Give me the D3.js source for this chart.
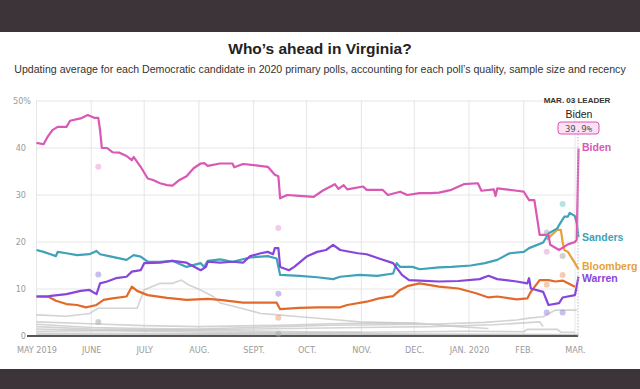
<!DOCTYPE html>
<html>
<head>
<meta charset="utf-8">
<script src="https://cdn.jsdelivr.net/npm/d3@7"></script>
<style>
	html, body { margin: 0; padding: 0; background: #3d3439; }
	svg { display: block; }
	.tick-label { font-family: "Liberation Sans Narrow", "DejaVu Sans Condensed", sans-serif; font-size: 9px; fill: #9a9a9a; }
</style>
</head>
<body>
<svg width="640" height="389"></svg>
<script>
// --- data (poll average, %) ---
const biden = [["2019-05-01",41.1],["2019-05-05",40.8],["2019-05-07",42.2],["2019-05-10",43.8],["2019-05-13",44.5],["2019-05-18",44.5],["2019-05-20",45.8],["2019-05-26",46.3],["2019-05-30",47.0],["2019-06-03",46.4],["2019-06-05",46.4],["2019-06-06",43.8],["2019-06-07",40.0],["2019-06-10",40.0],["2019-06-13",39.1],["2019-06-17",39.0],["2019-06-21",38.3],["2019-06-24",37.4],["2019-06-25",38.1],["2019-06-29",36.0],["2019-07-03",33.5],["2019-07-06",33.2],["2019-07-10",32.5],["2019-07-14",32.1],["2019-07-17",32.0],["2019-07-21",33.2],["2019-07-25",34.0],["2019-07-29",35.7],["2019-08-02",36.7],["2019-08-04",36.8],["2019-08-06",36.2],["2019-08-13",36.7],["2019-08-20",36.7],["2019-08-21",35.9],["2019-08-26",36.6],["2019-09-09",36.0],["2019-09-13",34.3],["2019-09-15",34.0],["2019-09-16",29.3],["2019-09-20",30.0],["2019-09-27",29.8],["2019-10-05",29.6],["2019-10-10",30.9],["2019-10-17",32.3],["2019-10-19",31.3],["2019-10-22",32.1],["2019-10-24",31.2],["2019-11-02",31.8],["2019-11-04",31.1],["2019-11-13",31.1],["2019-11-16",30.0],["2019-11-23",30.7],["2019-11-27",30.0],["2019-12-04",30.4],["2019-12-10",30.4],["2019-12-15",30.5],["2019-12-22",31.1],["2019-12-29",32.3],["2020-01-06",32.5],["2020-01-08",30.9],["2020-01-15",31.2],["2020-01-16",29.8],["2020-01-17",31.4],["2020-01-28",30.9],["2020-02-01",30.7],["2020-02-04",28.9],["2020-02-07",28.9],["2020-02-09",24.0],["2020-02-10",21.5],["2020-02-15",21.5],["2020-02-16",19.4],["2020-02-21",18.3],["2020-02-26",19.5],["2020-03-01",20.0],["2020-03-02",20.5],["2020-03-03",39.9]];

const sanders = [["2019-05-01",18.3],["2019-05-05",17.9],["2019-05-09",17.4],["2019-05-12",17.0],["2019-05-13",17.9],["2019-05-18",17.6],["2019-05-24",17.2],["2019-05-31",17.4],["2019-06-04",18.1],["2019-06-06",17.4],["2019-06-11",17.0],["2019-06-21",16.2],["2019-06-25",17.2],["2019-06-29",16.9],["2019-07-03",15.8],["2019-07-10",15.8],["2019-07-17",16.0],["2019-07-25",14.7],["2019-08-02",15.5],["2019-08-04",14.7],["2019-08-06",16.0],["2019-08-13",16.3],["2019-08-20",15.8],["2019-08-30",16.7],["2019-09-09",17.0],["2019-09-14",16.5],["2019-09-16",13.0],["2019-09-27",12.8],["2019-10-07",12.5],["2019-10-16",12.1],["2019-10-20",12.6],["2019-10-31",13.0],["2019-11-10",12.8],["2019-11-19",13.3],["2019-11-21",15.5],["2019-11-23",14.7],["2019-11-30",14.7],["2019-12-04",14.2],["2019-12-15",14.6],["2019-12-22",14.7],["2020-01-02",15.0],["2020-01-10",15.5],["2020-01-17",16.2],["2020-01-24",17.6],["2020-02-01",17.9],["2020-02-04",18.7],["2020-02-12",19.9],["2020-02-15",21.8],["2020-02-20",22.9],["2020-02-21",23.6],["2020-02-24",25.4],["2020-02-26",25.4],["2020-02-27",26.2],["2020-03-01",25.5],["2020-03-02",24.0],["2020-03-03",21.0]];

const warren = [["2019-05-01",8.4],["2019-05-08",8.5],["2019-05-18",8.9],["2019-05-26",9.6],["2019-05-31",9.8],["2019-06-04",8.9],["2019-06-06",11.2],["2019-06-10",11.6],["2019-06-15",12.3],["2019-06-21",12.6],["2019-06-24",13.7],["2019-06-29",14.0],["2019-07-01",15.5],["2019-07-10",15.6],["2019-07-17",16.0],["2019-07-25",15.6],["2019-08-02",14.0],["2019-08-05",14.7],["2019-08-06",15.8],["2019-08-13",15.6],["2019-08-20",15.8],["2019-08-26",15.6],["2019-08-30",17.0],["2019-09-05",17.6],["2019-09-09",17.9],["2019-09-12",17.4],["2019-09-13",18.7],["2019-09-15",18.7],["2019-09-16",14.7],["2019-09-21",14.0],["2019-09-24",14.7],["2019-10-01",16.9],["2019-10-07",17.9],["2019-10-12",18.3],["2019-10-16",19.4],["2019-10-20",18.3],["2019-10-30",17.6],["2019-11-04",17.4],["2019-11-11",16.5],["2019-11-19",15.5],["2019-11-24",13.0],["2019-11-28",11.9],["2019-12-04",11.8],["2019-12-15",11.6],["2019-12-26",11.7],["2020-01-07",12.1],["2020-01-12",12.8],["2020-01-17",12.1],["2020-01-28",11.6],["2020-02-03",11.2],["2020-02-04",12.3],["2020-02-05",10.1],["2020-02-12",9.4],["2020-02-15",6.6],["2020-02-21",7.0],["2020-02-23",8.2],["2020-03-01",8.7],["2020-03-03",12.6]];

const buttigieg = [["2019-05-01",8.4],["2019-05-08",8.3],["2019-05-12",7.5],["2019-05-18",6.8],["2019-05-24",6.6],["2019-05-29",6.1],["2019-06-04",6.6],["2019-06-08",7.7],["2019-06-13",8.0],["2019-06-21",8.4],["2019-06-24",10.5],["2019-06-27",9.6],["2019-07-03",8.7],["2019-07-14",8.1],["2019-07-25",7.7],["2019-08-06",7.9],["2019-08-13",7.7],["2019-08-26",7.1],["2019-09-14",7.1],["2019-09-16",5.7],["2019-09-27",6.0],["2019-10-07",6.1],["2019-10-20",6.1],["2019-10-24",6.6],["2019-11-04",7.3],["2019-11-11",8.0],["2019-11-19",8.5],["2019-11-23",9.8],["2019-11-27",10.6],["2019-12-04",11.2],["2019-12-15",10.5],["2019-12-26",10.1],["2020-01-05",9.1],["2020-01-12",8.2],["2020-01-17",8.4],["2020-01-28",7.8],["2020-02-03",8.0],["2020-02-05",9.4],["2020-02-10",11.9],["2020-02-15",11.9],["2020-02-19",11.6],["2020-02-23",11.8],["2020-03-01",10.5]];

const bloomberg = [["2020-02-14",20.5],["2020-02-20",22.6],["2020-02-22",22.6],["2020-02-23",20.0],["2020-02-24",18.3],["2020-02-26",17.9],["2020-03-01",15.5],["2020-03-03",14.2]];

// the other candidates, drawn in grey
const others = [
	[["2019-05-01",4.5],["2019-05-18",4.2],["2019-05-31",4.8],["2019-06-05",5.9],["2019-06-27",5.9],["2019-07-01",9.8],["2019-07-10",11.2],["2019-07-17",11.2],["2019-07-22",11.9],["2019-07-26",10.9],["2019-08-02",9.8],["2019-08-09",8.4],["2019-08-13",7.0],["2019-08-20",6.4],["2019-09-05",4.8],["2019-09-15",4.5],["2019-09-27",4.1],["2019-10-16",3.5],["2019-10-31",3.0],["2019-12-03",2.7]],
	[["2019-05-01",3.0],["2019-06-01",2.6],["2019-07-01",2.2],["2019-08-01",2.0],["2019-09-15",2.3],["2019-10-15",2.6],["2019-11-15",2.8],["2019-12-04",2.7],["2019-12-26",2.0],["2020-01-12",1.6]],
	[["2019-05-01",2.5],["2019-06-01",1.8],["2019-07-01",1.6],["2019-08-01",1.5],["2019-09-15",2.0],["2019-10-15",2.3],["2019-12-10",2.5],["2020-01-10",2.9],["2020-01-28",3.4],["2020-02-04",3.8],["2020-02-12",4.1],["2020-02-19",5.5],["2020-03-02",5.5]],
	[["2019-05-01",1.0],["2019-07-01",1.2],["2019-09-01",1.5],["2019-11-01",1.8],["2019-12-10",2.0],["2020-01-15",2.4],["2020-02-01",2.8],["2020-02-10",3.0],["2020-02-12",2.0]],
	[["2019-05-01",2.0],["2019-06-01",1.5],["2019-08-01",1.2],["2019-10-01",0.9],["2019-11-01",0.8]],
	[["2019-07-10",0.3],["2019-09-01",0.5],["2019-11-01",0.8],["2020-01-01",1.0],["2020-02-01",0.9],["2020-02-03",1.4],["2020-02-20",1.4],["2020-02-22",0.8],["2020-03-01",0.8]],
	[["2019-05-01",1.5],["2019-07-01",1.0],["2019-09-01",0.7],["2019-12-01",0.4],["2020-03-03",0.3]],
	[["2019-05-01",0.6],["2019-08-01",0.5],["2019-11-01",0.3],["2020-03-03",0.2]],
	[["2019-05-01",0.3],["2020-03-03",0.1]],
	[["2019-05-01",0.1],["2020-03-03",0.0]]
];

// individual polls (faint dots)
const pollDates = ["2019-06-05","2019-09-15","2020-02-14","2020-02-23"];
const pollBiden = [36.0, 23.0, 17.9, null];
const pollSanders = [null, null, null, 28.1];
const pollWarren = [13.1, 9.0, 5.0, 5.0];
const pollButtigieg = [null, 3.9, 10.9, 13.0];
const pollOther = [3.0, 0.5, 22.0, 17.0];

const yTicks = [0, 10, 20, 30, 40, 50];
const xTicks = ["2019-05-01","2019-06-01","2019-07-01","2019-08-01","2019-09-01","2019-10-01","2019-11-01","2019-12-01","2020-01-01","2020-02-01","2020-03-01"];
const xTickLabels = ["MAY 2019","JUNE","JULY","AUG.","SEPT.","OCT.","NOV.","DEC.","JAN. 2020","FEB.","MAR."];

const leaderDate = "MAR. 03 LEADER";
const leaderName = "Biden";
const leaderValue = "39.9%";

// --- drawing ---
const svg = d3.select("svg");
const W = 640, H = 389;
const parse = d3.timeParse("%Y-%m-%d");

svg.append("rect").attr("x", 0).attr("y", 32).attr("width", W).attr("height", 337).attr("fill", "#fff");

svg.append("text")
	.attr("x", W / 2).attr("y", 54)
	.attr("text-anchor", "middle")
	.style("font-family", "'Liberation Sans', Arial, sans-serif")
	.style("font-weight", "bold")
	.style("font-size", "15.5px")
	.attr("fill", "#222")
	.text("Who’s ahead in Virginia?");

svg.append("text")
	.attr("x", W / 2).attr("y", 73)
	.attr("text-anchor", "middle")
	.style("font-family", "'Liberation Sans', Arial, sans-serif")
	.style("font-size", "10.6px")
	.attr("fill", "#333")
	.text("Updating average for each Democratic candidate in 2020 primary polls, accounting for each poll’s quality, sample size and recency");

const xScale = d3.scaleTime()
	.domain([parse("2019-05-01"), parse("2020-03-03")])
	.range([36.5, 578.5]);
const yScale = d3.scaleLinear()
	.domain([0, 50])
	.range([336, 101]);

// grid
const grid = svg.append("g");
grid.selectAll(".hgrid")
	.data(yTicks.filter(d => d > 0))
	.enter().append("line")
	.attr("x1", 36).attr("x2", 578)
	.attr("y1", d => yScale(d)).attr("y2", d => yScale(d))
	.attr("stroke", "#e6e6e6").attr("stroke-width", 1);
grid.selectAll(".vgrid")
	.data(xTicks)
	.enter().append("line")
	.attr("x1", d => xScale(parse(d))).attr("x2", d => xScale(parse(d)))
	.attr("y1", 100).attr("y2", 336)
	.attr("stroke", "#e6e6e6").attr("stroke-width", 1);

// axes labels
const yAxis = d3.axisLeft(yScale).tickValues(yTicks).tickSize(0).tickPadding(0)
	.tickFormat(d => d === 50 ? "50%" : d);
const yg = svg.append("g").attr("transform", "translate(26,0)").call(yAxis);
yg.select(".domain").remove();
yg.selectAll("text").attr("class", "tick-label").attr("dy", "0.33em")
	.attr("dx", d => d === 50 ? 5 : 0);

const xAxis = d3.axisBottom(xScale).tickValues(xTicks.map(parse)).tickSize(0).tickPadding(0)
	.tickFormat((d, i) => xTickLabels[i]);
const xg = svg.append("g").attr("transform", "translate(0,347)").call(xAxis);
xg.select(".domain").remove();
xg.selectAll("text").attr("class", "tick-label");

const line = d3.line()
	.x(d => xScale(parse(d[0])))
	.y(d => yScale(d[1]));

// grey lines
svg.append("g").selectAll("path")
	.data(others)
	.enter().append("path")
	.attr("d", line)
	.attr("fill", "none")
	.attr("stroke", "#c8c8c8")
	.attr("stroke-opacity", 0.8)
	.attr("stroke-width", 1.6);

// baseline
svg.append("line")
	.attr("x1", 27).attr("x2", 578)
	.attr("y1", yScale(0)).attr("y2", yScale(0))
	.attr("stroke", "#555").attr("stroke-width", 2.2);

// poll dots
const pollSeries = [
	{ values: pollOther, color: "#aaaaaa" },
	{ values: pollButtigieg, color: "#f0a070" },
	{ values: pollWarren, color: "#9b8ae0" },
	{ values: pollSanders, color: "#7cc6d6" },
	{ values: pollBiden, color: "#eaa0d6" }
];
pollSeries.forEach(s => {
	svg.append("g").selectAll("circle")
		.data(pollDates.map((d, i) => [d, s.values[i]]).filter(d => d[1] !== null))
		.enter().append("circle")
		.attr("cx", d => xScale(parse(d[0])))
		.attr("cy", d => yScale(d[1]))
		.attr("r", 3)
		.attr("fill", s.color)
		.attr("fill-opacity", 0.55);
});

const series = [
	{ name: "Buttigieg", data: buttigieg, color: "#e2692a", label: null },
	{ name: "Bloomberg", data: bloomberg, color: "#e6a23a", label: 266 },
	{ name: "Sanders", data: sanders, color: "#3ea2b8", label: 237 },
	{ name: "Warren", data: warren, color: "#8845db", label: 278 },
	{ name: "Biden", data: biden, color: "#d957b5", label: 147 }
];

svg.append("g").selectAll("path")
	.data(series)
	.enter().append("path")
	.attr("d", d => line(d.data))
	.attr("fill", "none")
	.attr("stroke", d => d.color)
	.attr("stroke-width", 2.2)
	.attr("stroke-linejoin", "round");

// leader marker
svg.append("line")
	.attr("x1", 578).attr("x2", 578)
	.attr("y1", 134).attr("y2", 336)
	.attr("stroke", "#bbb").attr("stroke-width", 1)
	.attr("stroke-dasharray", "1.5,1.5");

svg.append("text")
	.attr("x", 577).attr("y", 103)
	.attr("text-anchor", "middle")
	.style("font-family", "'Liberation Sans', Arial, sans-serif")
	.style("font-weight", "bold").style("font-size", "8px")
	.attr("fill", "#333")
	.text(leaderDate);
svg.append("text")
	.attr("x", 579).attr("y", 118)
	.attr("text-anchor", "middle")
	.style("font-family", "'Liberation Sans', Arial, sans-serif")
	.style("font-size", "10.5px")
	.attr("fill", "#222")
	.text(leaderName);
svg.append("rect")
	.attr("x", 558).attr("y", 122).attr("width", 41).attr("height", 12).attr("rx", 3)
	.attr("fill", "#fbe1f3").attr("stroke", "#d957b5").attr("stroke-width", 1);
svg.append("text")
	.attr("x", 578.5).attr("y", 131.5)
	.attr("text-anchor", "middle")
	.style("font-family", "'DejaVu Sans Mono', monospace")
	.style("font-size", "9px")
	.attr("fill", "#555")
	.text(leaderValue);

// end labels
svg.append("g").selectAll("text")
	.data(series.filter(d => d.label !== null))
	.enter().append("text")
	.attr("x", 582).attr("y", d => d.label)
	.attr("dy", "0.35em")
	.style("font-family", "'Liberation Sans', Arial, sans-serif")
	.style("font-weight", "bold").style("font-size", "10.5px")
	.attr("fill", d => d.color)
	.text(d => d.name);
</script>
</body>
</html>
